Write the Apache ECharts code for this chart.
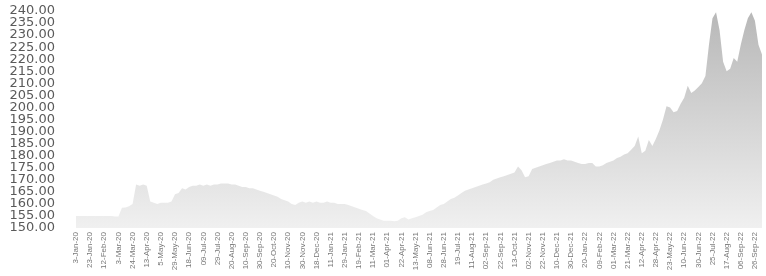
<!DOCTYPE html>
<html>
<head>
<meta charset="utf-8">
<script src="https://cdn.jsdelivr.net/npm/echarts@6/dist/echarts.min.js"></script>
<style>
  html, body { margin: 0; padding: 0; background: #fff; }
  #price { width: 766px; height: 276px; }
</style>
</head>
<body>
<div id="price"></div>
<script>
// dates shown on the x axis (one every 4 points)
var dateLabels = ['3-Jan-20', '23-Jan-20', '12-Feb-20', '3-Mar-20', '24-Mar-20', '13-Apr-20', '5-May-20', '29-May-20',
                  '18-Jun-20', '09-Jul-20', '29-Jul-20', '20-Aug-20', '10-Sep-20', '30-Sep-20', '20-Oct-20', '10-Nov-20',
                  '30-Nov-20', '18-Dec-20', '11-Jan-21', '29-Jan-21', '19-Feb-21', '11-Mar-21', '01-Apr-21', '22-Apr-21',
                  '13-May-21', '08-Jun-21', '28-Jun-21', '19-Jul-21', '11-Aug-21', '02-Sep-21', '22-Sep-21', '13-Oct-21',
                  '02-Nov-21', '22-Nov-21', '10-Dec-21', '30-Dec-21', '20-Jan-22', '09-Feb-22', '01-Mar-22', '21-Mar-22',
                  '12-Apr-22', '28-Apr-22', '23-May-22', '10-Jun-22', '30-Jun-22', '25-Jul-22', '17-Aug-22', '06-Sep-22',
                  '26-Sep-22'];
var pointsPerLabel = 4;

var prices = [155, 155, 155, 155, 155, 155, 155, 155, 155, 155, 155, 154.8, 154.8, 158.4, 158.5, 159,
              160, 168, 167.5, 168, 167.5, 161, 160.5, 160, 160.5, 160.5, 160.5, 161, 164, 164.5, 166.5, 166,
              167, 167.5, 167.5, 168, 167.5, 168, 167.5, 168, 168, 168.5, 168.5, 168.5, 168, 168, 167.5, 167,
              167, 166.5, 166.5, 166, 165.5, 165, 164.5, 164, 163.5, 163, 162, 161.5, 161, 160, 159.5, 160.5,
              161, 160.5, 161, 160.5, 161, 160.5, 160.5, 161, 160.5, 160.5, 160, 160, 160, 159.5, 159, 158.5,
              158, 157.5, 157, 156, 155, 154, 153.5, 153, 153, 153, 152.8, 153, 154, 154.5, 153.5, 154,
              154.5, 155, 155.5, 156.5, 157, 157.5, 158.5, 159.5, 160, 161, 162, 162.5, 163.5, 164.5, 165.5, 166,
              166.5, 167, 167.5, 168, 168.5, 169, 170, 170.5, 171, 171.5, 172, 172.5, 173, 175.5, 174, 171,
              171.5, 174.5, 175, 175.5, 176, 176.5, 177, 177.5, 178, 178, 178.5, 178, 178, 177.5, 177, 176.5,
              176.5, 177, 177, 175.5, 175.5, 176, 177, 177.5, 178, 179, 179.5, 180.5, 181, 182.5, 184, 188,
              181, 182, 186.5, 184, 187, 190.5, 195, 200.5, 200, 198, 198.5, 201.5, 204, 209, 206, 207,
              208.5, 210, 213, 226, 237, 239.5, 232, 219, 215, 216, 220.5, 219, 226, 232, 237, 239.5,
              236, 226, 222];

// y tick labels, split over two overlaid axes so none gets dropped as overlapping
var yMin = 150;
var yMax = 240;
var yTicksEven = [150, 160, 170, 180, 190, 200, 210, 220, 230, 240];
var yTicksOdd = [155, 165, 175, 185, 195, 205, 215, 225, 235];

// category list: a date at every 4th point, blank in between
var category = [];
for (var i = 0; i < prices.length; i++) {
    category.push(i % pointsPerLabel === 0 && i / pointsPerLabel < dateLabels.length ? dateLabels[i / pointsPerLabel] : '');
}

function yAxisWith(ticks) {
    return {
        type: 'value',
        position: 'left',
        min: yMin,
        max: yMax,
        axisLine: { show: false },
        axisTick: { show: false },
        splitLine: { show: false },
        axisLabel: {
            customValues: ticks,
            showMinLabel: true,
            showMaxLabel: true,
            margin: 21,
            fontSize: 13,
            fontFamily: 'DejaVu Sans',
            color: '#5a5a5a',
            formatter: function (v) { return v.toFixed(2); }
        }
    };
}

var myChart = echarts.init(document.getElementById('price'));
var option = {
    animation: false,
    grid: { left: 76, right: 4, top: 11, bottom: 48 },
    xAxis: {
        type: 'category',
        data: category,
        boundaryGap: false,
        axisLine: { show: false },
        axisTick: { show: false },
        axisLabel: {
            interval: pointsPerLabel - 1,
            rotate: 90,
            margin: 4,
            fontSize: 8,
            fontFamily: 'Liberation Sans',
            color: '#777'
        }
    },
    yAxis: [yAxisWith(yTicksEven), yAxisWith(yTicksOdd)],
    series: [{
        type: 'line',
        data: prices,
        yAxisIndex: 0,
        symbol: 'none',
        smooth: false,
        lineStyle: { width: 0 },
        areaStyle: {
            opacity: 1,
            color: new echarts.graphic.LinearGradient(0, 0, 0, 1, [
                { offset: 0, color: '#b8b8b8' },
                { offset: 1, color: '#f0f0f0' }
            ])
        }
    }]
};
myChart.setOption(option);
window.onresize = myChart.resize;
</script>
</body>
</html>
